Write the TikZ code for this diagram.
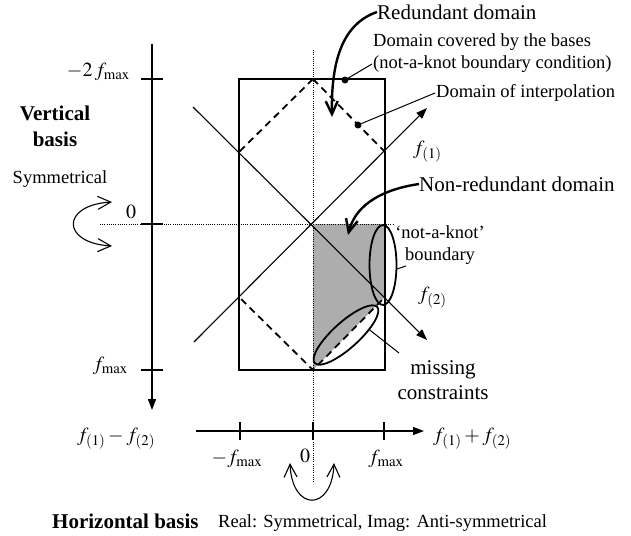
\documentclass[tikz,border=0pt]{standalone}
\usepackage{mathptmx}
\usepackage[no-math]{fontspec}
\setmainfont{Liberation Serif}
\usetikzlibrary{arrows.meta,shapes.geometric}
\tikzset{
  txtL/.style={font=\fontsize{21}{25}\selectfont, inner sep=0pt},
  txtS/.style={font=\fontsize{18.5}{21.5}\selectfont, inner sep=0pt},
  mathlbl/.style={font=\fontsize{20}{24}\selectfont, inner sep=0pt},
  axisarrow/.style={line width=1.2pt, -{Triangle[length=11pt,width=8pt]}},
  tickline/.style={line width=1.2pt},
  guide/.style={line width=0.8pt, dash pattern=on 1pt off 1.2pt},
  boundarydash/.style={line width=1.8pt, dash pattern=on 7pt off 5pt},
  bigcurve/.style={line width=2.4pt, -{Straight Barb[length=13pt,width=12pt]}},
  symcurve/.style={line width=1.1pt, {Straight Barb[length=13pt,width=13pt]}-{Straight Barb[length=13pt,width=13pt]}},
  leader/.style={line width=1pt},
  ringstyle/.style={draw, ellipse, line width=1.8pt, inner sep=0pt},
  dotmark/.style={circle, fill=black, inner sep=0pt, minimum size=7pt},
}
\begin{document}
\begin{tikzpicture}[x=1pt,y=-1pt]
\useasboundingbox (0,0) rectangle (631,535);

% shaded non-redundant domain
\fill[black!32] (313,224) -- (385,224) -- (385,297) -- (313,370) -- cycle;

% guide (dotted) lines
\coordinate (gvt) at (313,50);
\coordinate (gvb) at (313,482);
\coordinate (ghl) at (100,224);
\coordinate (ghr) at (393,224);
\draw[guide] (gvt) -- (gvb);
\draw[guide] (ghl) -- (ghr);

% bounding rectangle
\node[draw, line width=1.2pt, minimum width=146pt, minimum height=291pt, inner sep=0pt] (box) at (312,224.5) {};

% dashed domain of interpolation
\coordinate (h1) at (313,79);
\coordinate (h2) at (385,152);
\coordinate (h3) at (385,297);
\coordinate (h4) at (313,370);
\coordinate (h5) at (239,297);
\coordinate (h6) at (239,152);
\draw[boundarydash] (h1) -- (h2) -- (h3) -- (h4) -- (h5) -- (h6) -- cycle;

% diagonal axes
\coordinate (d1s) at (194,342);
\coordinate (d1e) at (427,108);
\coordinate (d2s) at (193,107);
\coordinate (d2e) at (427,340);
\draw[axisarrow, line width=1.1pt] (d1s) -- (d1e);
\draw[axisarrow, line width=1.1pt] (d2s) -- (d2e);
\node[mathlbl, anchor=west] (lf1) at (413,152) {$f_{(1)}$};
\node[mathlbl, anchor=west] (lf2) at (418,298) {$f_{(2)}$};

% vertical axis
\coordinate (vtop) at (152,44);
\coordinate (vbot) at (152,410);
\draw[axisarrow] (vtop) -- (vbot);
\coordinate (vt1) at (152,79);
\coordinate (vt2) at (152,224);
\coordinate (vt3) at (152,370);
\draw[tickline] (vt1) ++(-11,0) -- ++(22,0);
\draw[tickline, line width=2pt] (vt2) ++(-11,0) -- ++(22,0);
\draw[tickline] (vt3) ++(-11,0) -- ++(22,0);
\node[mathlbl, anchor=east] (lm2) at (130,72) {$-2\,f_{\mathrm{max}}$};
\node[mathlbl] (lz) at (131,212) {$0$};
\node[mathlbl, anchor=east] (lfm) at (128,366) {$f_{\mathrm{max}}$};
\node[mathlbl] (ldiff) at (116,439) {$f_{(1)}-f_{(2)}$};

% horizontal axis
\coordinate (hl) at (196,431);
\coordinate (hr) at (424,431);
\draw[axisarrow] (hl) -- (hr);
\coordinate (ht1) at (240,431);
\coordinate (ht2) at (313,431);
\coordinate (ht3) at (384,431);
\draw[tickline] (ht1) ++(0,-9) -- ++(0,18);
\draw[tickline] (ht2) ++(0,-9) -- ++(0,18);
\draw[tickline] (ht3) ++(0,-9) -- ++(0,18);
\node[mathlbl, anchor=west] (lsum) at (433,439) {$f_{(1)}+f_{(2)}$};
\node[mathlbl] (hm) at (237,459) {$-f_{\mathrm{max}}$};
\node[mathlbl] (hz) at (305,456) {$0$};
\node[mathlbl] (hp) at (386,459) {$f_{\mathrm{max}}$};

% ellipses
\node[ringstyle, minimum width=27pt, minimum height=80pt] (nak) at (383,265) {};
\node[ringstyle, minimum width=84pt, minimum height=26pt, rotate=42] (mc) at (346,335) {};

% text labels
\node[txtL, anchor=west] (red) at (377,12) {Redundant domain};
\node[txtS, anchor=west, align=left] (cov) at (373,53) {Domain covered by the bases\\(not-a-knot boundary condition)};
\node[txtS, anchor=west] (interp) at (436,93) {Domain of interpolation};
\node[txtL, anchor=west] (nonred) at (419,184) {Non-redundant domain};
\node[txtS, align=center] (nakl) at (440,245) {‘not-a-knot’\\boundary};
\node[txtL, align=center] (miss) at (443,380) {missing\\constraints};
\node[txtL, font=\fontsize{21}{26}\selectfont\bfseries, align=center] (vb) at (55,126) {Vertical\\basis};
\node[txtS] (sym) at (60,179) {Symmetrical};
\node[txtL, font=\fontsize{21}{25}\selectfont\bfseries, anchor=base west] (hb) at (52,528) {Horizontal basis};
\node[txtS, anchor=base west] (ri) at (218,527) {Real: Symmetrical, Imag: Anti-symmetrical};

% dots and leaders
\node[dotmark] (dcov) at (345,80) {};
\node[dotmark] (dint) at (358,125) {};
\coordinate (covend) at (372,64);
\coordinate (intend) at (435,93);
\draw[leader] (dcov) -- (covend);
\draw[leader] (dint) -- (intend);
\coordinate (nakend) at (406,266);
\draw[leader] (nak.-15) -- (nakend);
\coordinate (mcend) at (399,353);
\draw[leader] (mc.-30) -- (mcend);

% thick curved arrows
\coordinate (redtip) at (332,117);
\draw[bigcurve] (red.west) .. controls (342,24) and (331,62) .. (redtip);
\coordinate (nrtip) at (348,235);
\draw[bigcurve] (nonred.west) .. controls (385,189) and (356,203) .. (nrtip);

% symmetry arrows
\coordinate (sa1) at (112,202);
\coordinate (sa2) at (112,246);
\draw[symcurve] (sa1) .. controls (61,205) and (61,243) .. (sa2);
\coordinate (sb1) at (290,463);
\coordinate (sb2) at (334,463);
\draw[symcurve] (sb1) .. controls (292,512) and (332,512) .. (sb2);
\end{tikzpicture}
\end{document}
